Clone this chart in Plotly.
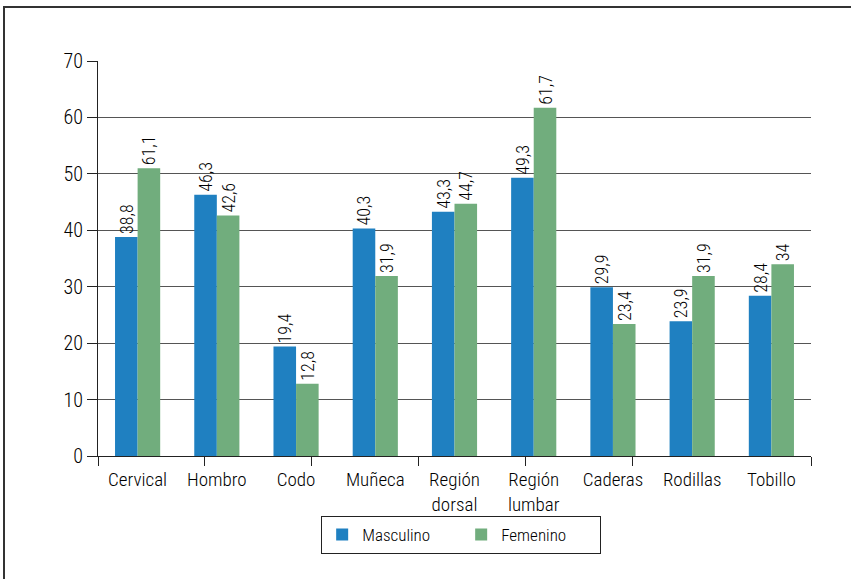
import plotly.graph_objects as go

categories = ["Cervical", "Hombro", "Codo", "Muñeca", "Región<br>dorsal",
              "Región<br>lumbar", "Caderas", "Rodillas", "Tobillo"]
masculino = [38.8, 46.3, 19.4, 40.3, 43.3, 49.3, 29.9, 23.9, 28.4]
masculino_labels = ["38,8", "46,3", "19,4", "40,3", "43,3", "49,3", "29,9", "23,9", "28,4"]
femenino = [51.0, 42.6, 12.8, 31.9, 44.7, 61.7, 23.4, 31.9, 34.0]
femenino_labels = ["61,1", "42,6", "12,8", "31,9", "44,7", "61,7", "23,4", "31,9", "34"]
y_ticks = [0, 10, 20, 30, 40, 50, 60, 70]
x_tick_marks = [0, 1.35, 2.7, 4.05, 5.4, 6.75, 9]

FONT = "Roboto Condensed, DejaVu Sans Condensed, sans-serif"
BLUE = "#1f80c1"
GREEN = "#71ad7d"
TXT = "#000000"

fig = go.Figure()
fig.add_trace(go.Bar(
    name="Masculino", x=categories, y=masculino, marker_color=BLUE,
    marker_line_width=0,
    text=masculino_labels, textposition="outside", textangle=-90,
    constraintext="none", cliponaxis=False,
    textfont=dict(family=FONT, size=18, color=TXT, weight=300),
))
fig.add_trace(go.Bar(
    name="Femenino", x=categories, y=femenino, marker_color=GREEN,
    marker_line_width=0,
    text=femenino_labels, textposition="outside", textangle=-90,
    constraintext="none", cliponaxis=False,
    textfont=dict(family=FONT, size=18, color=TXT, weight=300),
))
# invisible trace on overlay axis to carry tick marks
fig.add_trace(go.Scatter(x=[0, 9], y=[0, 0], xaxis="x2", mode="lines",
                         line=dict(width=0), showlegend=False, hoverinfo="skip"))

fig.update_layout(
    width=851, height=579,
    margin=dict(l=98, r=40, t=61, b=123),
    paper_bgcolor="white", plot_bgcolor="white",
    barmode="group", bargap=0.43, bargroupgap=0,
    font=dict(family=FONT, size=19, color=TXT, weight=300),
    showlegend=True,
    legend=dict(
        orientation="h", x=0.313, y=-0.152, xanchor="left", yanchor="top",
        bordercolor="#222", borderwidth=1, bgcolor="white",
        font=dict(family=FONT, size=17, color=TXT, weight=300),
        entrywidth=94, entrywidthmode="pixels",
        traceorder="normal",
    ),
    xaxis=dict(
        type="category", showline=True, linecolor="#222", linewidth=1,
        ticks="", showgrid=False, tickfont=dict(size=19), automargin=False,
        ticklabelstandoff=6,
    ),
    xaxis2=dict(
        overlaying="x", range=[0, 9], tickvals=x_tick_marks, ticks="outside",
        ticklen=9, tickcolor="#222", showticklabels=False, showgrid=False,
        zeroline=False, showline=False, side="bottom", anchor="y",
    ),
    yaxis=dict(
        range=[0, 70], tickvals=y_ticks, showgrid=True, gridcolor="#555",
        gridwidth=1, showline=True, linecolor="#222", linewidth=1,
        ticks="outside", ticklen=10, tickcolor="#222", zeroline=False,
        tickfont=dict(size=20), automargin=False,
    ),
    shapes=[dict(type="rect", xref="paper", yref="paper",
                 x0=(4 - 98) / 713, x1=1.2, y0=-0.6, y1=(456 - 7) / 395,
                 line=dict(color="#333", width=2), fillcolor="rgba(0,0,0,0)",
                 layer="below")],
)

fig.write_html("out.html", config={"displayModeBar": False},
               post_script="document.body.style.margin='0';document.body.style.overflow='hidden';")
